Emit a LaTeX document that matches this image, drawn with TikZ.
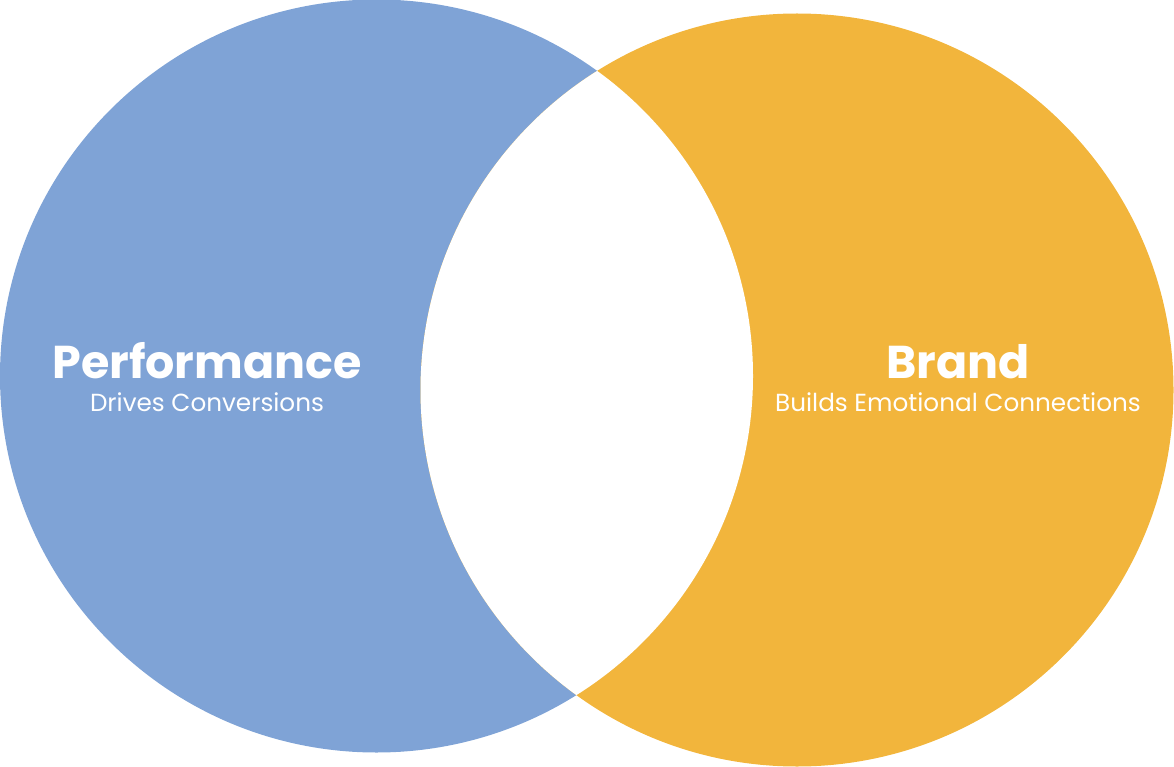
\documentclass[tikz,border=0pt]{standalone}
\usepackage{fontspec}
\setmainfont{Poppins}
\definecolor{perfblue}{HTML}{7FA3D6}
\definecolor{brandgold}{HTML}{F2B53C}
\tikzset{
  title/.style={text=white, font=\fontsize{46}{52}\selectfont\bfseries, anchor=base, inner sep=0pt},
  subtitle/.style={text=white, font=\fontsize{24.7}{29}\selectfont, anchor=base, inner sep=0pt}
}
\begin{document}
\begin{tikzpicture}[x=1pt,y=-1pt]
\useasboundingbox (0,0) rectangle (1174,767);
\coordinate (cb) at (376.5,376);
\coordinate (co) at (797,390);
\fill[perfblue] (cb) circle[radius=376.5];
\fill[brandgold] (co) circle[radius=376.5];
\begin{scope}
  \clip (cb) circle[radius=376.5];
  \fill[white] (co) circle[radius=376.5];
\end{scope}
\node[title] (perf) at (207,378) {Performance};
\node[subtitle] (perfsub) at (207,411) {Drives Conversions};
\node[title] (brand) at (958,378) {Brand};
\node[subtitle] (brandsub) at (958,411) {Builds Emotional Connections};
\end{tikzpicture}
\end{document}
